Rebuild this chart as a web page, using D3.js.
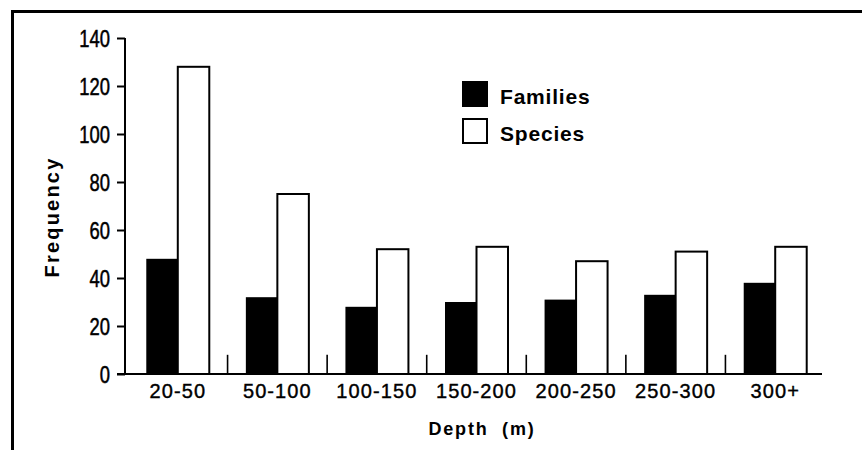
<!DOCTYPE html>
<html>
<head>
<meta charset="utf-8">
<script src="https://cdn.jsdelivr.net/npm/d3@7"></script>
<style>
  body { margin: 0; background: #fff; }
  svg { display: block; }
  text { font-family: "Liberation Sans", Arial, sans-serif; fill: #000; }
</style>
</head>
<body>
<script>
// Chart data
const depths = ["20-50", "50-100", "100-150", "150-200", "200-250", "250-300", "300+"];
const families = [48, 32, 28, 30, 31, 33, 38];
const species = [128, 75, 52, 53, 47, 51, 53];
const yTicks = [0, 20, 40, 60, 80, 100, 120, 140];
const seriesNames = ["Families", "Species"];

const WIDTH = 862;
const HEIGHT = 450;

const svg = d3.select("body")
    .append("svg")
    .attr("width", WIDTH)
    .attr("height", HEIGHT);

/** outer frame: top and left edges only */
svg.append("path")
    .attr("d", "M12.5,450 L12.5,11.5 L862,11.5")
    .attr("fill", "none")
    .attr("stroke", "#000")
    .attr("stroke-width", 3);

const y = d3.scaleLinear()
    .domain([0, 140])
    .range([374, 38]);

const x = d3.scaleBand()
    .domain(depths)
    .range([128, 825])
    .padding(0);

const barW = 31.5;
const squeeze = 0.8;   // tick labels are condensed in the original

/** y axis */
const yAxis = svg.append("g")
    .attr("transform", "translate(125,0)")
    .call(d3.axisLeft(y).tickValues(yTicks).tickSize(8).tickPadding(6));
yAxis.select(".domain").remove();
yAxis.selectAll(".tick line").attr("stroke", "#000").attr("stroke-width", 2);
yAxis.selectAll(".tick text")
    .attr("font-family", "'Liberation Sans', Arial, sans-serif")
    .attr("font-size", 23)
    .attr("stroke", "#000")
    .attr("stroke-width", 0.5)
    .attr("x", -15 / squeeze)
    .attr("dy", "0.36em")
    .attr("transform", `scale(${squeeze},1)`);

svg.append("line")
    .attr("x1", 125).attr("x2", 125)
    .attr("y1", y(140)).attr("y2", y(0))
    .attr("stroke", "#000")
    .attr("stroke-width", 2);

/** baseline */
svg.append("line")
    .attr("x1", 117).attr("x2", 822)
    .attr("y1", y(0)).attr("y2", y(0))
    .attr("stroke", "#000")
    .attr("stroke-width", 2);

/** separator marks between groups */
svg.selectAll(".sep")
    .data(depths.slice(1))
    .enter()
    .append("line")
    .attr("class", "sep")
    .attr("x1", d => x(d)).attr("x2", d => x(d))
    .attr("y1", y(0)).attr("y2", y(8))
    .attr("stroke", "#000")
    .attr("stroke-width", 1.6);

/** bars */
const groups = svg.selectAll(".grp")
    .data(depths)
    .enter()
    .append("g")
    .attr("class", "grp");

groups.append("rect")
    .attr("x", d => x(d) + x.bandwidth() / 2 - barW)
    .attr("y", (d, i) => y(families[i]))
    .attr("width", barW)
    .attr("height", (d, i) => y(0) - y(families[i]))
    .attr("fill", "#000");

groups.append("rect")
    .attr("x", d => x(d) + x.bandwidth() / 2)
    .attr("y", (d, i) => y(species[i]))
    .attr("width", barW)
    .attr("height", (d, i) => y(0) - y(species[i]))
    .attr("fill", "#fff")
    .attr("stroke", "#000")
    .attr("stroke-width", 2);

/** x labels */
svg.selectAll(".xlab")
    .data(depths)
    .enter()
    .append("text")
    .attr("class", "xlab")
    .attr("x", d => x(d) + x.bandwidth() / 2)
    .attr("y", 398)
    .attr("text-anchor", "middle")
    .attr("font-size", 20)
    .attr("letter-spacing", 1.1)
    .attr("stroke", "#000")
    .attr("stroke-width", 0.4)
    .text(d => d);

/** axis titles */
svg.append("text")
    .attr("x", 482)
    .attr("y", 435)
    .attr("text-anchor", "middle")
    .attr("font-size", 18)
    .attr("font-weight", "bold")
    .attr("letter-spacing", 1.8)
    .style("white-space", "pre")
    .text("Depth  (m)");

svg.append("text")
    .attr("transform", "translate(59,217) rotate(-90)")
    .attr("text-anchor", "middle")
    .attr("font-size", 20)
    .attr("font-weight", "bold")
    .attr("letter-spacing", 2.2)
    .text("Frequency");

/** legend */
const legend = svg.selectAll(".leg")
    .data(seriesNames)
    .enter()
    .append("g")
    .attr("class", "leg")
    .attr("transform", (d, i) => `translate(463,${82 + i * 37})`);

legend.append("rect")
    .attr("width", 24)
    .attr("height", 24)
    .attr("fill", (d, i) => i === 0 ? "#000" : "#fff")
    .attr("stroke", "#000")
    .attr("stroke-width", 2);

legend.append("text")
    .attr("x", 37)
    .attr("y", 22)
    .attr("font-size", 21)
    .attr("font-weight", "bold")
    .attr("letter-spacing", 0.8)
    .text(d => d);
</script>
</body>
</html>
